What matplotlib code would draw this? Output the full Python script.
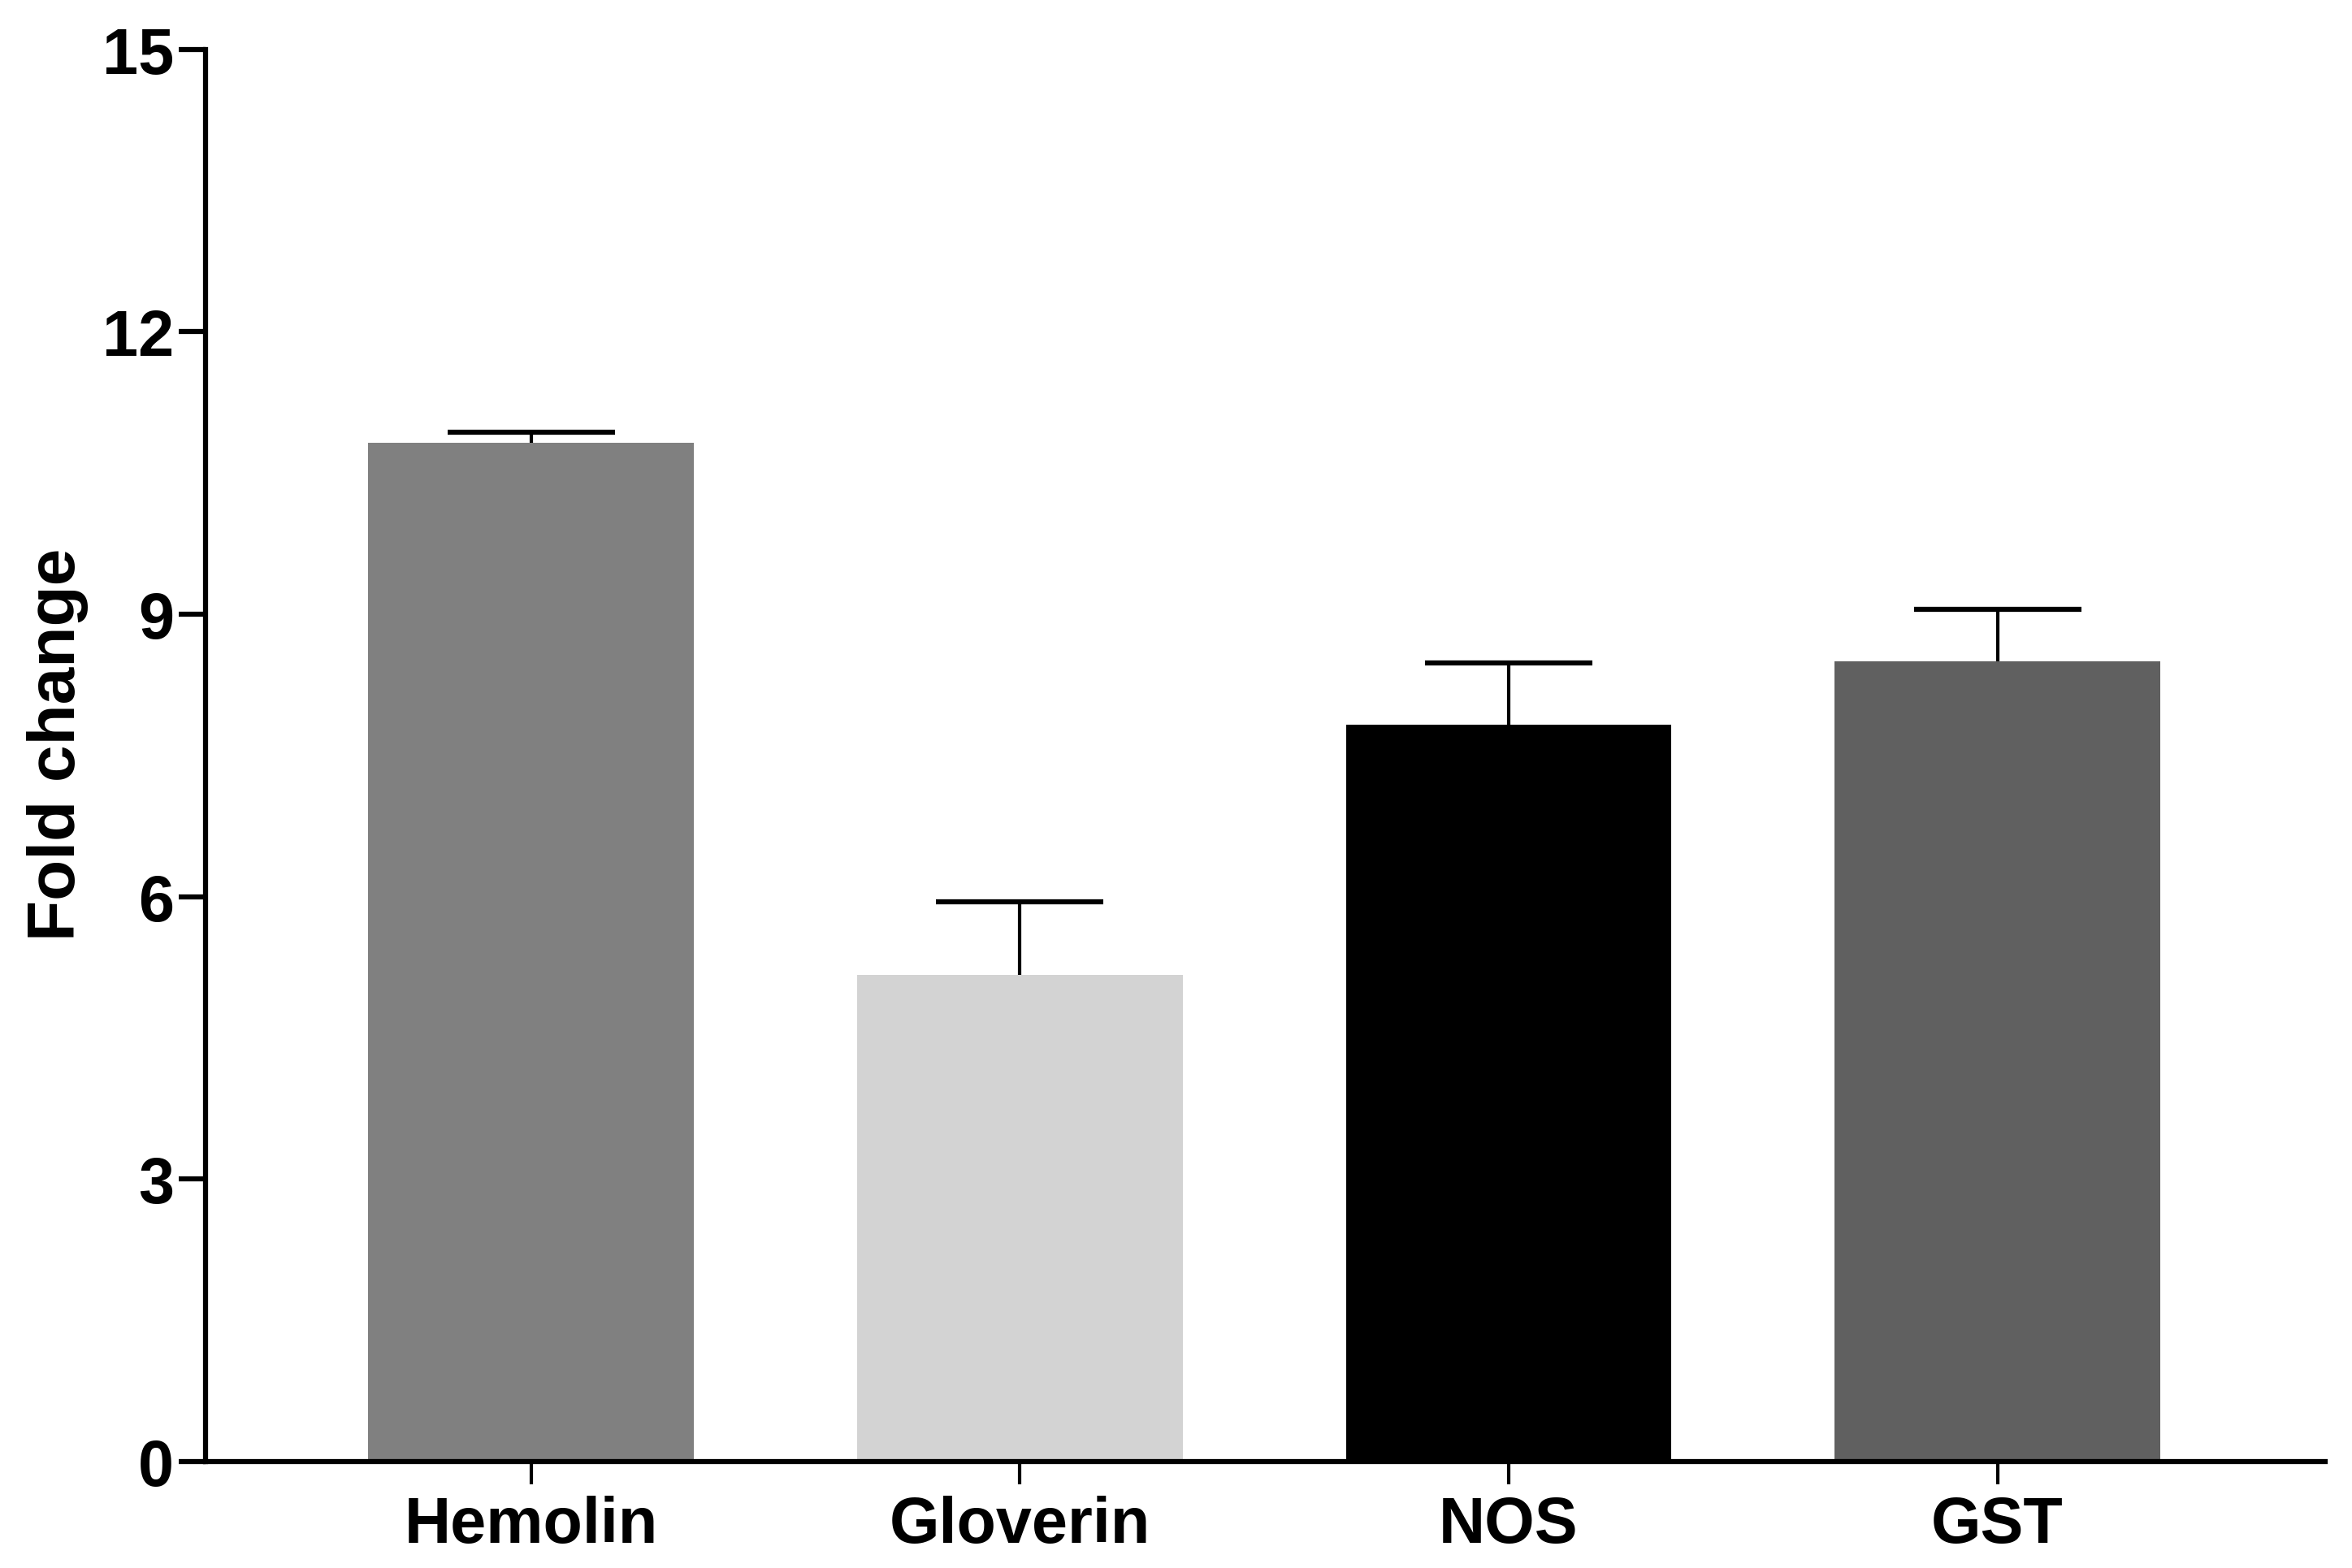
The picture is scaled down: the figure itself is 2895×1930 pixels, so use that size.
import matplotlib
matplotlib.use("Agg")
import matplotlib.pyplot as plt

categories = ["Hemolin", "Gloverin", "NOS", "GST"]
values = [10.82, 5.17, 7.83, 8.50]
errors = [0.11, 0.77, 0.65, 0.55]
colors = ["#808080", "#d3d3d3", "#000000", "#606060"]
yticks = [0, 3, 6, 9, 12, 15]

plt.rcParams['font.family'] = ['Liberation Sans', 'DejaVu Sans']

fig = plt.figure(figsize=(28.95, 19.31), dpi=100)
ax = fig.add_axes([0.0874, 0.068, 0.9011, 0.900])

x = list(range(len(categories)))
ax.bar(x, values, width=0.666, color=colors, zorder=2)
eb = ax.errorbar(x, values, yerr=[[0] * len(errors), errors], fmt='none',
                 ecolor='black', elinewidth=3, capsize=74, capthick=4.5, zorder=3)
# hide the lower caps (one-sided error bars)
eb[1][0].set_visible(False)

ax.set_xlim(-0.666, 3.67)
ax.set_ylim(0, 15)
ax.set_yticks(yticks)
ax.set_yticklabels([str(t) for t in yticks], fontsize=57, fontweight='bold')
ax.set_xticks(x)
ax.set_xticklabels(categories, fontsize=57, fontweight='bold')
ax.set_ylabel("Fold change", fontsize=59, fontweight='bold', labelpad=12)
ax.yaxis.label.set_y(0.508)

for s in ['top', 'right']:
    ax.spines[s].set_visible(False)
for s in ['left', 'bottom']:
    ax.spines[s].set_linewidth(4.5)
ax.tick_params(axis='y', length=24, width=4.5, pad=4)
ax.tick_params(axis='x', length=20, width=3, pad=10)

fig.savefig("out.png", dpi=100)
